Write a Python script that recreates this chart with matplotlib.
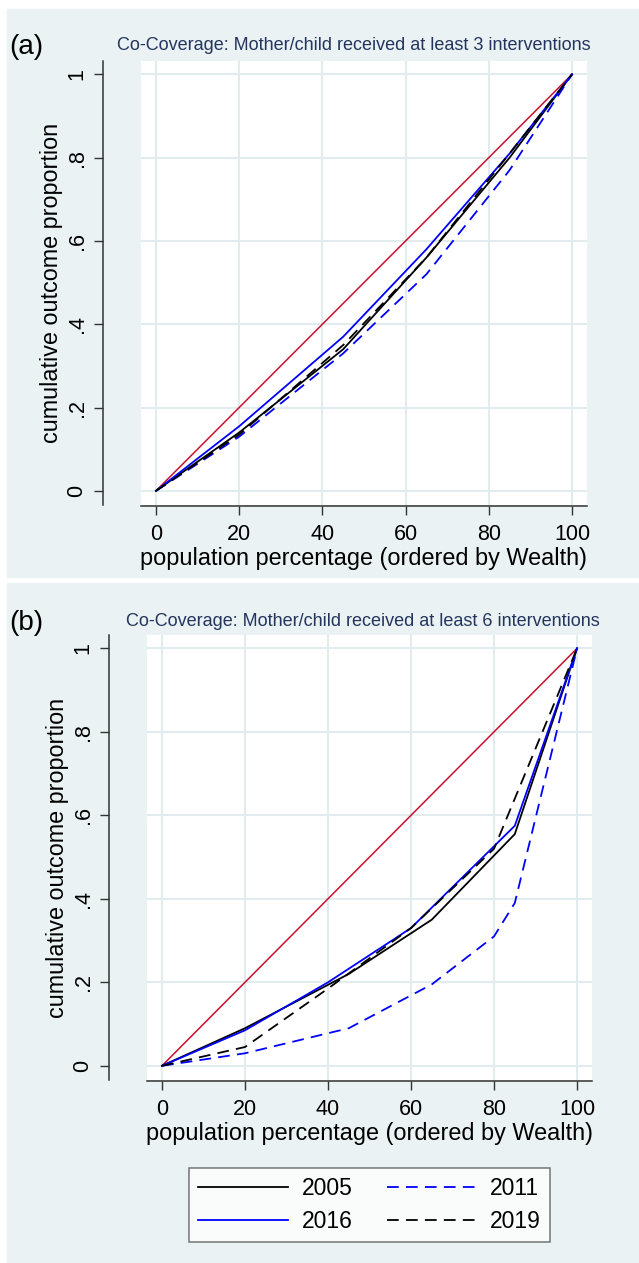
import numpy as np
import matplotlib
matplotlib.use('Agg')
import matplotlib.pyplot as plt
from matplotlib.patches import Rectangle

plt.rcParams['font.family'] = ['Liberation Sans', 'DejaVu Sans']

W, H = 639, 1263
BG = '#eaf2f3'
GRID = '#e2ecee'
TITLE_COLOR = '#24345e'
RED = '#c8102e'

# panel (a): at least 3 interventions
a_x = [0, 20, 45, 65, 85, 100]
a_2005 = [0, 0.14, 0.34, 0.56, 0.80, 1]
a_2011 = [0, 0.13, 0.33, 0.52, 0.77, 1]
a_2016 = [0, 0.155, 0.37, 0.58, 0.81, 1]
a_2019 = [0, 0.135, 0.35, 0.56, 0.81, 1]

# panel (b): at least 6 interventions
b_x_2005 = [0, 20, 45, 65, 85, 100]
b_2005 = [0, 0.09, 0.22, 0.35, 0.555, 1]
b_x_2011 = [0, 20, 45, 65, 80, 85, 100]
b_2011 = [0, 0.03, 0.09, 0.195, 0.31, 0.39, 1]
b_x_2016 = [0, 20, 40, 60, 85, 100]
b_2016 = [0, 0.085, 0.20, 0.33, 0.575, 1]
b_x_2019 = [0, 20, 40, 60, 80, 100]
b_2019 = [0, 0.045, 0.185, 0.33, 0.52, 1]

x_ticks = [0, 20, 40, 60, 80, 100]
y_ticks = [0, 0.2, 0.4, 0.6, 0.8, 1]
y_ticklabels = ['0', '.2', '.4', '.6', '.8', '1']
legend_labels = ['2005', '2016', '2011', '2019']


def fx(px):
    return px / W


def fy(py):
    return 1 - py / H


def panel(fig, box, bg_box, tag, title, title_xy, ylabel_x, series):
    # bg_box / box given in pixels: (left, top, right, bottom)
    l, t, r, b = bg_box
    fig.add_artist(Rectangle((fx(l), fy(b)), fx(r) - fx(l), fy(t) - fy(b),
                             transform=fig.transFigure, color=BG, zorder=-5))
    l, t, r, b = box
    ax = fig.add_axes([fx(l), fy(b), fx(r) - fx(l), fy(t) - fy(b)])
    ax.set_facecolor('white')
    ax.set_xlim(-3.6, 103.6)
    ax.set_ylim(-0.034, 1.032)

    ax.plot([0, 100], [0, 1], color=RED, lw=1.1, zorder=3)
    for xs, ys, color, dashed in series:
        line, = ax.plot(xs, ys, color=color, lw=1.3, zorder=4)
        if dashed:
            line.set_dashes((6.5, 4))

    ax.set_xticks(x_ticks)
    ax.set_yticks(y_ticks, y_ticklabels)
    ax.grid(True, color=GRID, lw=1.5)
    ax.set_axisbelow(True)
    for s in ['top', 'right']:
        ax.spines[s].set_visible(False)
    ax.spines['left'].set_position(('outward', 27.5))
    ax.spines['bottom'].set_position(('outward', 0.7))
    for s in ['left', 'bottom']:
        ax.spines[s].set_color('#333333')
        ax.spines[s].set_linewidth(1.1)
    ax.tick_params(length=6.5, width=1, color='#333333', labelsize=15.5, pad=6.5)
    ax.tick_params(axis='y', labelrotation=90, pad=4.5)
    for lab in ax.get_yticklabels():
        lab.set_va('center')

    ax.set_xlabel('population percentage (ordered by Wealth)', fontsize=16.9)
    ax.xaxis.set_label_coords(fx((l + r) / 2), fy(b + 42), transform=fig.transFigure)
    ax.set_ylabel('cumulative outcome proportion', fontsize=16.8)
    ax.yaxis.set_label_coords(fx(ylabel_x), fy((t + b) / 2), transform=fig.transFigure)

    fig.text(fx(title_xy[0]), fy(title_xy[1]), title, fontsize=13,
             color=TITLE_COLOR, ha='center', va='center')
    fig.text(fx(26), fy(title_xy[1] + 2), tag, fontsize=20, ha='center', va='center')
    return ax


fig = plt.figure(figsize=(W / 100, H / 100), dpi=100)

panel(fig, (141, 61, 587, 505), (7, 9, 638, 577), '(a)',
      'Co-Coverage: Mother/child received at least 3 interventions',
      (354, 45), 63,
      [(a_x, a_2005, 'black', False),
       (a_x, a_2011, 'blue', True),
       (a_x, a_2016, 'blue', False),
       (a_x, a_2019, 'black', True)])

ax_b = panel(fig, (147, 635, 592, 1080), (7, 583, 638, 1263), '(b)',
             'Co-Coverage: Mother/child received at least 6 interventions',
             (363, 621), 69,
             [(b_x_2005, b_2005, 'black', False),
              (b_x_2011, b_2011, 'blue', True),
              (b_x_2016, b_2016, 'blue', False),
              (b_x_2019, b_2019, 'black', True)])

h = ax_b.get_lines()[1:]
leg = fig.legend([h[0], h[2], h[1], h[3]], legend_labels,
                 ncol=2, loc='center', bbox_to_anchor=(fx(369.5), fy(1205)),
                 fontsize=16.5, handlelength=3.9, handletextpad=0.6,
                 columnspacing=1.5, labelspacing=0.45, borderpad=0.4,
                 frameon=True, fancybox=False)
leg.get_frame().set_edgecolor('#555555')
leg.get_frame().set_linewidth(1.1)

fig.savefig('out.png', dpi=100, facecolor='white')
